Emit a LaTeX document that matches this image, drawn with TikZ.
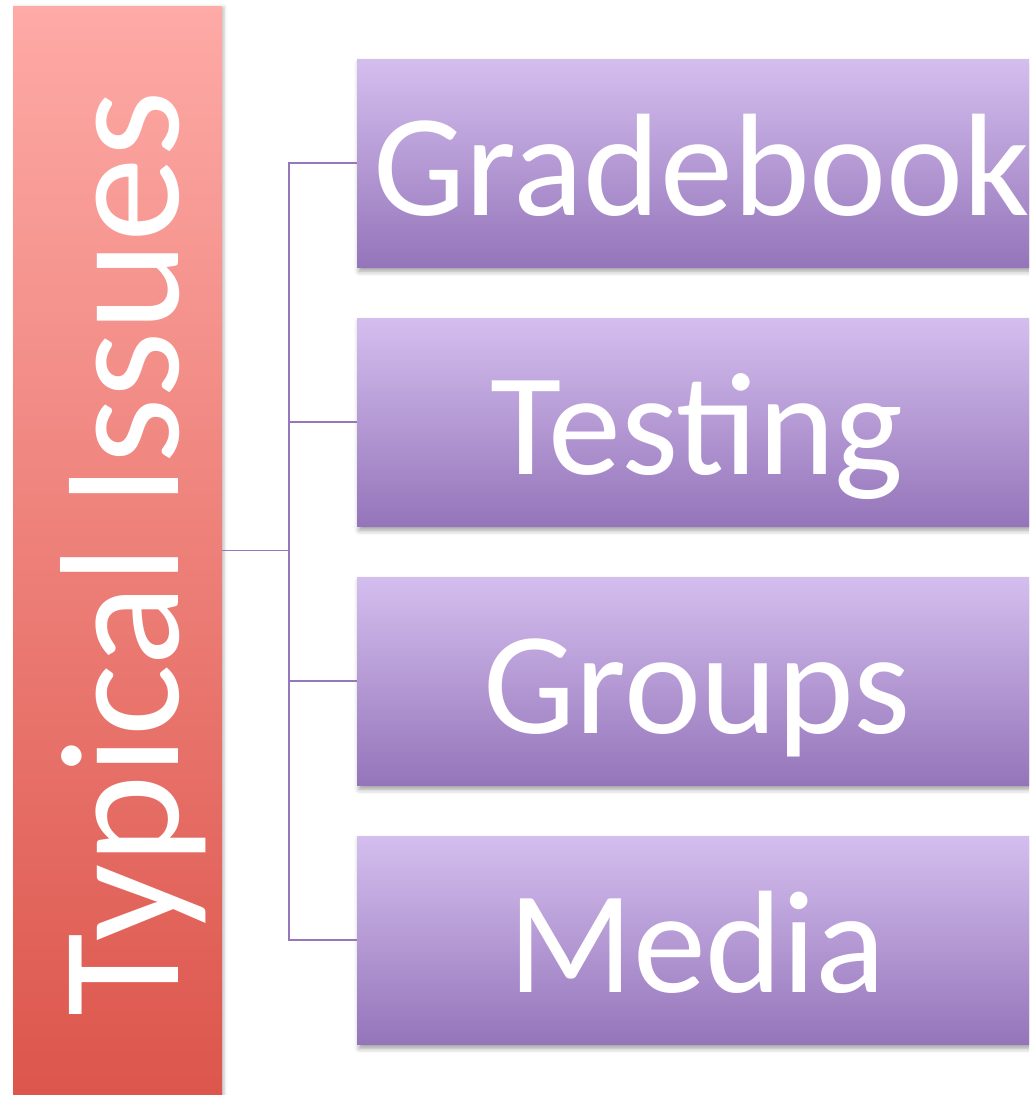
\documentclass[tikz,border=0pt]{standalone}
\usepackage{fontspec}
\setmainfont{Carlito}
\usetikzlibrary{shadows.blur}
\definecolor{redtop}{RGB}{254,170,166}
\definecolor{redbot}{RGB}{220,86,76}
\definecolor{purtop}{RGB}{212,190,238}
\definecolor{purbot}{RGB}{149,117,186}
\definecolor{linkcol}{RGB}{150,120,186}
\tikzset{
  mainbox/.style={rectangle, inner sep=0pt, minimum width=209pt, minimum height=1089pt,
    top color=redtop, bottom color=redbot,
    blur shadow={shadow xshift=2pt, shadow yshift=-1pt, shadow blur radius=3pt, shadow opacity=25}},
  itembox/.style={rectangle, inner sep=0pt, minimum width=690pt, minimum height=208pt,
    top color=purtop, bottom color=purbot,
    blur shadow={shadow xshift=2pt, shadow yshift=-4pt, shadow blur radius=5pt, shadow opacity=40}},
  itemtext/.style={anchor=base, inner sep=0pt, text=white, font=\fontsize{146}{175}\selectfont},
  maintext/.style={anchor=base, inner sep=0pt, text=white, rotate=90, font=\fontsize{170}{204}\selectfont},
  link/.style={draw=linkcol, line width=1.8pt}
}
\begin{document}
\begin{tikzpicture}[x=1pt, y=-1pt]
  \useasboundingbox (0,0) rectangle (1029,1095);
  \begin{scope}
    \clip (0,0) rectangle (1029,1095);
    % left title bar
    \node[mainbox] (issues) at (117.5,550.5) {};
    \node[maintext] (issuestxt) at (178,554) {Typical Issues};
    % item boxes
    \node[itembox, anchor=north west] (b1) at (357,59) {};
    \node[itembox, anchor=north west] (b2) at (357,318) {};
    \node[itembox, anchor=north west] (b3) at (357,577) {};
    \node[itembox, anchor=north west] (b4) at (357,836) {};
    \node[itemtext] (t1) at (702,215) {Gradebook};
    \node[itemtext] (t2) at (697,474) {Testing};
    \node[itemtext] (t3) at (697,733) {Groups};
    \node[itemtext] (t4) at (697,992) {Media};
    % connectors
    \coordinate (hub) at (289,550.5);
    \draw[link] (issues.east) -- (hub);
    \foreach \b in {b1,b2,b3,b4}
      \draw[link] (hub) |- (\b.west);
  \end{scope}
\end{tikzpicture}
\end{document}
